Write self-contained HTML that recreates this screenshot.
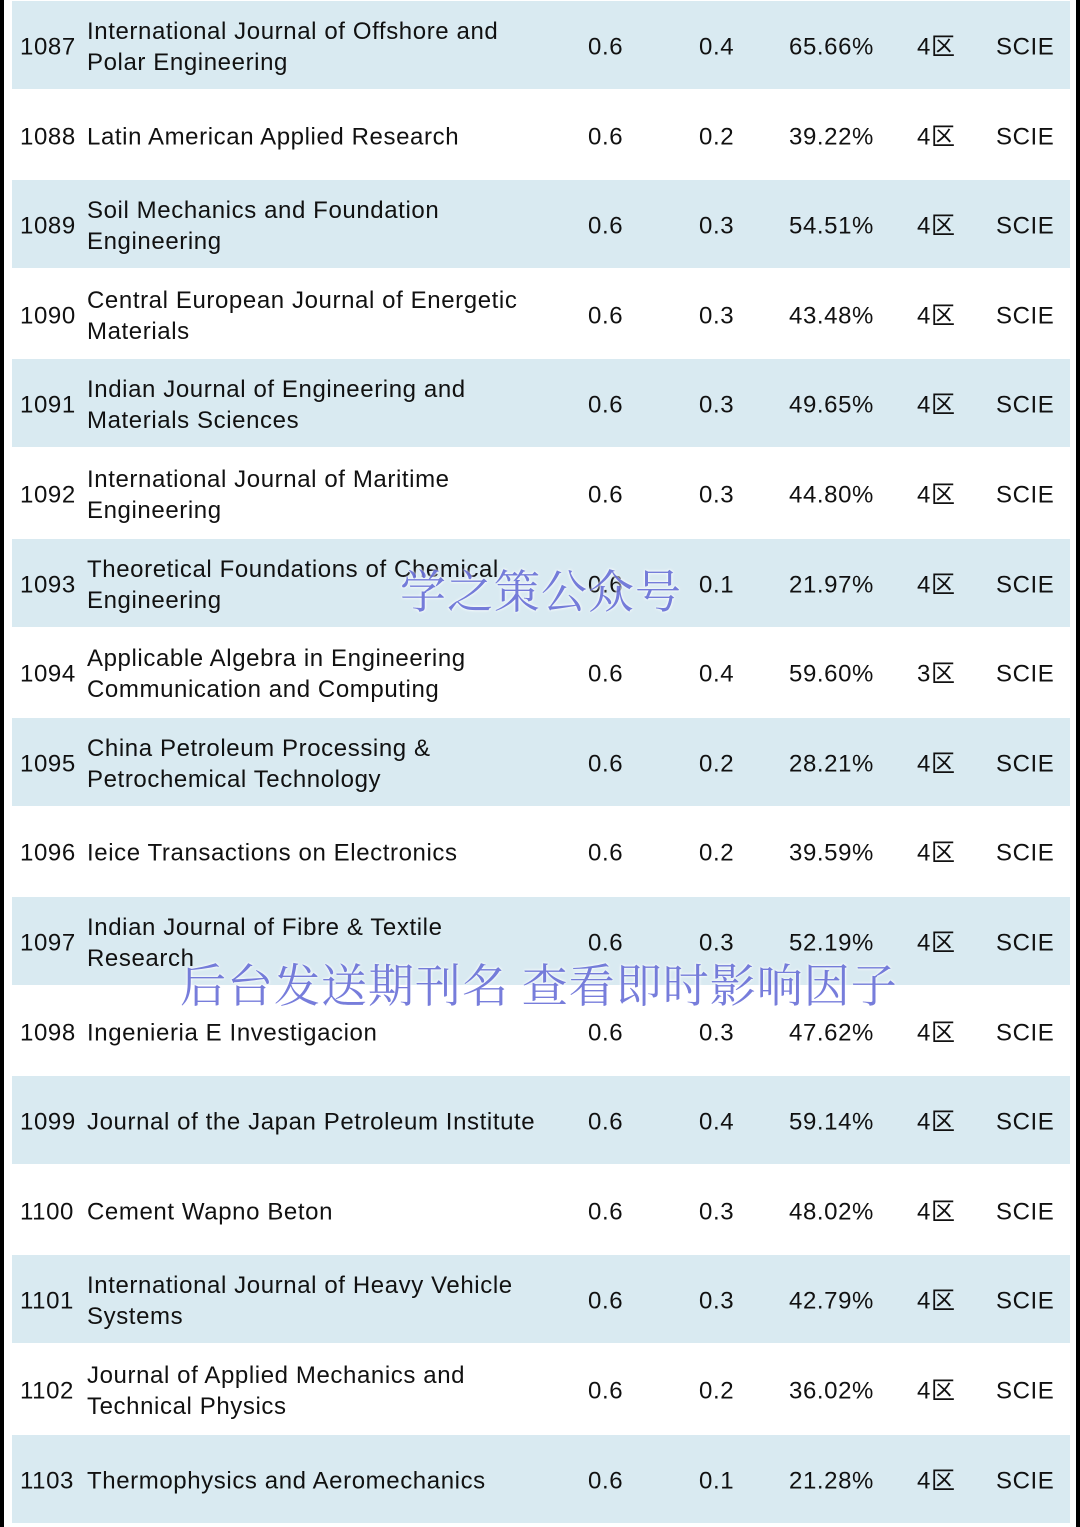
<!DOCTYPE html>
<html><head><meta charset="utf-8">
<style>
body{margin:0;width:1080px;height:1527px;background:#fff;position:relative;overflow:hidden;font-family:"Liberation Sans","Noto Sans CJK SC",sans-serif;color:#111;}
.edge{position:absolute;top:0;height:1527px;width:4px;background:#000;}
.row{position:absolute;left:12px;width:1058px;height:88px;}
.blue{background:#d9eaf1;}
.c{position:absolute;font-size:24px;line-height:31px;letter-spacing:0.6px;white-space:nowrap;transform:translateY(-50%);top:calc(50% + 2px);}
.wm{position:absolute;font-family:"Noto Serif CJK SC",serif;color:#6c73d8;opacity:.92;white-space:nowrap;text-shadow:0 0 3px #fff,0 0 2px #fff;}
</style></head><body>
<div class="edge" style="left:0"></div>
<div class="edge" style="left:1076px"></div>
<div id="t"></div>
<script>
const rows=[
["1087","International Journal of Offshore and<br>Polar Engineering","0.6","0.4","65.66%","4区"],
["1088","Latin American Applied Research","0.6","0.2","39.22%","4区"],
["1089","Soil Mechanics and Foundation<br>Engineering","0.6","0.3","54.51%","4区"],
["1090","Central European Journal of Energetic<br>Materials","0.6","0.3","43.48%","4区"],
["1091","Indian Journal of Engineering and<br>Materials Sciences","0.6","0.3","49.65%","4区"],
["1092","International Journal of Maritime<br>Engineering","0.6","0.3","44.80%","4区"],
["1093","Theoretical Foundations of Chemical<br>Engineering","0.6","0.1","21.97%","4区"],
["1094","Applicable Algebra in Engineering<br>Communication and Computing","0.6","0.4","59.60%","3区"],
["1095","China Petroleum Processing &amp;<br>Petrochemical Technology","0.6","0.2","28.21%","4区"],
["1096","Ieice Transactions on Electronics","0.6","0.2","39.59%","4区"],
["1097","Indian Journal of Fibre &amp; Textile<br>Research","0.6","0.3","52.19%","4区"],
["1098","Ingenieria E Investigacion","0.6","0.3","47.62%","4区"],
["1099","Journal of the Japan Petroleum Institute","0.6","0.4","59.14%","4区"],
["1100","Cement Wapno Beton","0.6","0.3","48.02%","4区"],
["1101","International Journal of Heavy Vehicle<br>Systems","0.6","0.3","42.79%","4区"],
["1102","Journal of Applied Mechanics and<br>Technical Physics","0.6","0.2","36.02%","4区"],
["1103","Thermophysics and Aeromechanics","0.6","0.1","21.28%","4区"]
];
const xs=[8,75,576,687,777,905,984];
const t=document.getElementById('t');
rows.forEach((r,i)=>{
  const d=document.createElement('div');
  d.className='row'+(i%2===0?' blue':'');
  d.style.top=(i*89.6+1)+'px';
  
  
  const cells=[r[0],r[1],r[2],r[3],r[4],r[5],'SCIE'];
  const names=['rank','journal-title','impact-factor','score','percentile','zone','index'];
  cells.forEach((v,j)=>{
    const s=document.createElement('div');
    s.className='c';s.style.left=xs[j]+'px';s.innerHTML=v;
    
    
    d.appendChild(s);
  });
  t.appendChild(d);
});
</script>
<div class="wm" style="left:400px;top:556px;font-size:46px;letter-spacing:1px">学之策公众号</div>
<div class="wm" style="left:180px;top:950px;font-size:46px;letter-spacing:1px">后台发送期刊名 查看即时影响因子</div>
</body></html>
